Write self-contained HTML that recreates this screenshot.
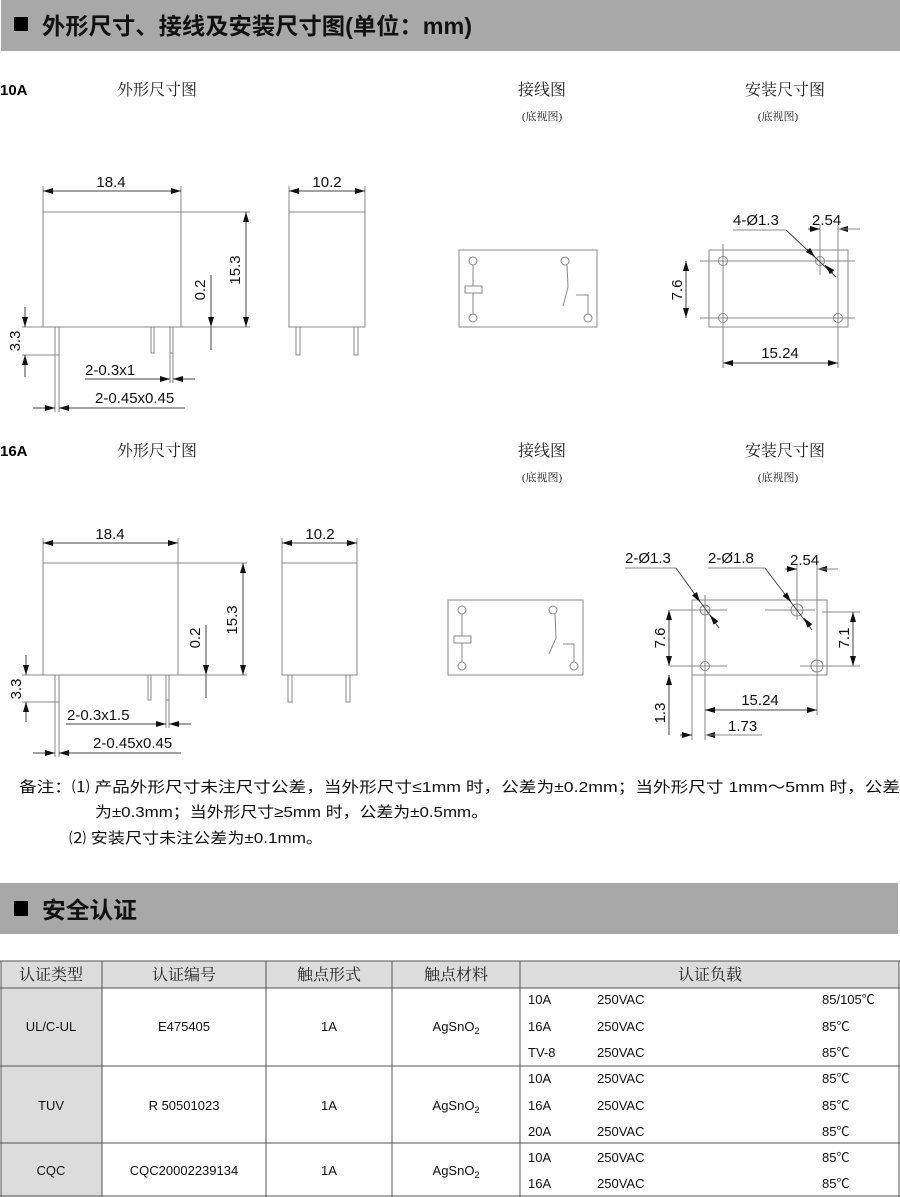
<!DOCTYPE html>
<html><head><meta charset="utf-8"><style>
html,body{margin:0;padding:0;background:#fff;width:900px;height:1197px;overflow:hidden}
svg{display:block}
.d{font-family:"Liberation Sans",sans-serif;font-size:15px;fill:#111}
.s{font-family:"Liberation Serif","Noto Serif CJK SC",serif;font-size:16px;fill:#222}
.ss{font-family:"Liberation Serif","Noto Serif CJK SC",serif;font-size:11px;fill:#222}
.t{font-family:"Liberation Sans","Noto Sans CJK SC",sans-serif;font-size:13px;fill:#111}
.n{font-family:"Liberation Sans","Noto Sans CJK SC",sans-serif;font-size:15px;fill:#111}
.h{font-family:"Liberation Sans","Noto Sans CJK SC",sans-serif;font-size:23px;font-weight:bold;fill:#111}
.ln{stroke:#888;stroke-width:1;fill:none}
.dk{stroke:#444;stroke-width:1;fill:none}
.tb{stroke:#555;stroke-width:1;fill:none}
</style></head><body>
<svg width="900" height="1197" viewBox="0 0 900 1197" xmlns="http://www.w3.org/2000/svg">
<defs>
<marker id="a" viewBox="0 0 10 6" refX="10" refY="3" markerWidth="10" markerHeight="6" orient="auto-start-reverse" markerUnits="userSpaceOnUse"><path d="M0,0L10,3L0,6z" fill="#111"/></marker>
</defs>
<rect x="1" y="0" width="899" height="51" fill="#a8a8a8"/>
<rect x="14" y="17" width="14" height="14" fill="#000"/>
<text class="h" x="42" y="34" textLength="430" lengthAdjust="spacingAndGlyphs">外形尺寸、接线及安装尺寸图(单位：mm)</text>

<text x="0" y="95" style="font-family:'Liberation Sans',sans-serif;font-weight:bold;font-size:15px">10A</text>
<text class="s" x="117" y="95">外形尺寸图</text>
<text class="s" x="542" y="95" text-anchor="middle">接线图</text>
<text class="ss" x="542" y="120" text-anchor="middle">(底视图)</text>
<text class="s" x="785" y="95" text-anchor="middle">安装尺寸图</text>
<text class="ss" x="778" y="120" text-anchor="middle">(底视图)</text>

<g>
<rect x="43" y="212" width="138" height="115" class="ln"/>
<line x1="43" y1="186" x2="43" y2="212" class="ln"/><line x1="181" y1="186" x2="181" y2="212" class="ln"/>
<line x1="43" y1="191" x2="181" y2="191" class="dk" marker-start="url(#a)" marker-end="url(#a)"/>
<text class="d" x="111" y="187" text-anchor="middle">18.4</text>
<line x1="181" y1="212" x2="250" y2="212" class="ln"/><line x1="181" y1="327" x2="250" y2="327" class="ln"/>
<line x1="246" y1="212" x2="246" y2="327" class="dk" marker-start="url(#a)" marker-end="url(#a)"/>
<text class="d" transform="translate(240,270) rotate(-90)" text-anchor="middle">15.3</text>
<line x1="211" y1="275" x2="211" y2="327" class="dk" marker-end="url(#a)"/>
<line x1="211" y1="350" x2="211" y2="327" class="dk"/>
<text class="d" transform="translate(205,290) rotate(-90)" text-anchor="middle">0.2</text>
<line x1="22" y1="327" x2="43" y2="327" class="ln"/><line x1="181" y1="327" x2="214" y2="327" class="ln"/>
<rect x="55" y="327" width="4" height="28" class="ln"/>
<rect x="151" y="327" width="3" height="26" class="ln"/>
<rect x="170" y="327" width="3" height="26" class="ln"/>
<line x1="22" y1="355" x2="55" y2="355" class="ln"/>
<line x1="25" y1="307" x2="25" y2="327" class="dk" marker-end="url(#a)"/>
<line x1="25" y1="377" x2="25" y2="355" class="dk" marker-end="url(#a)"/>
<text class="d" transform="translate(20,341) rotate(-90)" text-anchor="middle">3.3</text>
<line x1="170" y1="353" x2="170" y2="383" class="ln"/><line x1="173" y1="353" x2="173" y2="383" class="ln"/>
<line x1="85" y1="379" x2="170" y2="379" class="dk" marker-end="url(#a)"/>
<line x1="195" y1="379" x2="173" y2="379" class="dk" marker-end="url(#a)"/>
<text class="d" x="85" y="375">2-0.3x1</text>
<line x1="55" y1="355" x2="55" y2="412" class="ln"/><line x1="59" y1="355" x2="59" y2="412" class="ln"/>
<line x1="33" y1="408" x2="55" y2="408" class="dk" marker-end="url(#a)"/>
<line x1="185" y1="408" x2="59" y2="408" class="dk" marker-end="url(#a)"/>
<text class="d" x="95" y="403">2-0.45x0.45</text>
<rect x="289" y="212" width="76" height="115" class="ln"/>
<line x1="289" y1="186" x2="289" y2="212" class="ln"/><line x1="365" y1="186" x2="365" y2="212" class="ln"/>
<line x1="289" y1="191" x2="365" y2="191" class="dk" marker-start="url(#a)" marker-end="url(#a)"/>
<text class="d" x="327" y="187" text-anchor="middle">10.2</text>
<rect x="296" y="327" width="4" height="28" class="ln"/><rect x="354" y="327" width="4" height="28" class="ln"/>
</g>

<g class="ln">
<rect x="459" y="250" width="138" height="77"/>
<circle cx="473" cy="261" r="4"/><circle cx="565" cy="261" r="4"/><circle cx="473" cy="318" r="4"/><circle cx="588" cy="318" r="4"/>
<line x1="473" y1="265" x2="473" y2="286"/><rect x="465" y="286" width="17" height="7"/><line x1="473" y1="293" x2="473" y2="314"/>
<polyline points="567,265 568,287 563,306"/><polyline points="576,295 588,295 588,314"/>
</g>
<g>
<rect x="709" y="250" width="139" height="77" class="ln"/>
<line x1="700" y1="261" x2="855" y2="261" class="ln"/><line x1="700" y1="318" x2="855" y2="318" class="ln"/>
<line x1="723" y1="244" x2="723" y2="368" class="ln"/><line x1="820" y1="225" x2="820" y2="275" class="ln"/><line x1="838" y1="225" x2="838" y2="368" class="ln"/>
<circle cx="723" cy="261" r="4.5" class="ln"/><circle cx="820" cy="261" r="4.5" class="ln"/><circle cx="723" cy="318" r="4.5" class="ln"/><circle cx="838" cy="318" r="4.5" class="ln"/>
<line x1="686" y1="261" x2="686" y2="318" class="dk" marker-start="url(#a)" marker-end="url(#a)"/>
<text class="d" transform="translate(682,290) rotate(-90)" text-anchor="middle">7.6</text>
<line x1="723" y1="363" x2="838" y2="363" class="dk" marker-start="url(#a)" marker-end="url(#a)"/>
<text class="d" x="780" y="358" text-anchor="middle">15.24</text>
<line x1="808" y1="229" x2="820" y2="229" class="dk" marker-end="url(#a)"/>
<line x1="850" y1="229" x2="838" y2="229" class="dk" marker-end="url(#a)"/>
<line x1="838" y1="229" x2="860" y2="229" class="ln"/>
<text class="d" x="812" y="225">2.54</text>
<line x1="733" y1="230" x2="786" y2="230" class="ln"/>
<line x1="786" y1="230" x2="836" y2="277" class="dk"/>
<line x1="807" y1="249" x2="815" y2="257" class="dk" marker-end="url(#a)"/>
<line x1="833" y1="273" x2="825" y2="265" class="dk" marker-end="url(#a)"/>
<text class="d" x="733" y="225">4-Ø1.3</text>
</g>

<text x="0" y="456" style="font-family:'Liberation Sans',sans-serif;font-weight:bold;font-size:15px">16A</text>
<text class="s" x="117" y="456">外形尺寸图</text>
<text class="s" x="542" y="456" text-anchor="middle">接线图</text>
<text class="ss" x="542" y="481" text-anchor="middle">(底视图)</text>
<text class="s" x="785" y="456" text-anchor="middle">安装尺寸图</text>
<text class="ss" x="778" y="481" text-anchor="middle">(底视图)</text>

<g>
<rect x="43" y="563" width="135" height="112" class="ln"/>
<line x1="43" y1="538" x2="43" y2="563" class="ln"/><line x1="178" y1="538" x2="178" y2="563" class="ln"/>
<line x1="43" y1="543" x2="178" y2="543" class="dk" marker-start="url(#a)" marker-end="url(#a)"/>
<text class="d" x="110" y="539" text-anchor="middle">18.4</text>
<line x1="178" y1="563" x2="247" y2="563" class="ln"/><line x1="178" y1="675" x2="247" y2="675" class="ln"/>
<line x1="243" y1="563" x2="243" y2="675" class="dk" marker-start="url(#a)" marker-end="url(#a)"/>
<text class="d" transform="translate(237,620) rotate(-90)" text-anchor="middle">15.3</text>
<line x1="206" y1="625" x2="206" y2="675" class="dk" marker-end="url(#a)"/>
<line x1="206" y1="698" x2="206" y2="675" class="dk"/>
<text class="d" transform="translate(200,638) rotate(-90)" text-anchor="middle">0.2</text>
<line x1="22" y1="675" x2="43" y2="675" class="ln"/><line x1="178" y1="675" x2="210" y2="675" class="ln"/>
<rect x="55" y="675" width="4" height="27" class="ln"/>
<rect x="148" y="675" width="3" height="25" class="ln"/>
<rect x="166" y="675" width="3" height="25" class="ln"/>
<line x1="22" y1="702" x2="55" y2="702" class="ln"/>
<line x1="26" y1="655" x2="26" y2="675" class="dk" marker-end="url(#a)"/>
<line x1="26" y1="722" x2="26" y2="702" class="dk" marker-end="url(#a)"/>
<text class="d" transform="translate(21,689) rotate(-90)" text-anchor="middle">3.3</text>
<line x1="166" y1="700" x2="166" y2="728" class="ln"/><line x1="169" y1="700" x2="169" y2="728" class="ln"/>
<line x1="66" y1="724" x2="166" y2="724" class="dk" marker-end="url(#a)"/>
<line x1="191" y1="724" x2="169" y2="724" class="dk" marker-end="url(#a)"/>
<text class="d" x="67" y="720">2-0.3x1.5</text>
<line x1="55" y1="702" x2="55" y2="757" class="ln"/><line x1="59" y1="702" x2="59" y2="757" class="ln"/>
<line x1="33" y1="753" x2="55" y2="753" class="dk" marker-end="url(#a)"/>
<line x1="181" y1="753" x2="59" y2="753" class="dk" marker-end="url(#a)"/>
<text class="d" x="93" y="748">2-0.45x0.45</text>
<rect x="282" y="563" width="75" height="112" class="ln"/>
<line x1="282" y1="538" x2="282" y2="563" class="ln"/><line x1="357" y1="538" x2="357" y2="563" class="ln"/>
<line x1="282" y1="543" x2="357" y2="543" class="dk" marker-start="url(#a)" marker-end="url(#a)"/>
<text class="d" x="320" y="539" text-anchor="middle">10.2</text>
<rect x="288" y="675" width="4" height="27" class="ln"/><rect x="346" y="675" width="4" height="27" class="ln"/>
</g>

<g class="ln">
<rect x="448" y="600" width="135" height="75"/>
<circle cx="462" cy="610" r="4"/><circle cx="553" cy="610" r="4"/><circle cx="462" cy="666" r="4"/><circle cx="574" cy="666" r="4"/>
<line x1="462" y1="614" x2="462" y2="636"/><rect x="454" y="636" width="17" height="7"/><line x1="462" y1="643" x2="462" y2="662"/>
<polyline points="555,614 556,638 549,654"/><polyline points="563,644 574,644 574,662"/>
</g>
<g>
<rect x="692" y="600" width="135" height="75" class="ln"/>
<line x1="670" y1="610" x2="727" y2="610" class="ln"/><line x1="765" y1="610" x2="815" y2="610" class="ln"/>
<line x1="670" y1="666" x2="727" y2="666" class="ln"/><line x1="800" y1="666" x2="860" y2="666" class="ln"/>
<line x1="822" y1="612" x2="860" y2="612" class="ln"/>
<line x1="705" y1="595" x2="705" y2="740" class="ln"/><line x1="797" y1="565" x2="797" y2="620" class="ln"/><line x1="817" y1="565" x2="817" y2="715" class="ln"/>
<line x1="692" y1="675" x2="692" y2="740" class="ln"/>
<circle cx="705" cy="610" r="5" class="ln"/><circle cx="797" cy="610" r="6" class="ln"/><circle cx="705" cy="666" r="4.5" class="ln"/><circle cx="817" cy="666" r="6" class="ln"/>
<line x1="669" y1="610" x2="669" y2="666" class="dk" marker-start="url(#a)" marker-end="url(#a)"/>
<text class="d" transform="translate(665,638) rotate(-90)" text-anchor="middle">7.6</text>
<line x1="669" y1="675" x2="669" y2="735" class="dk"/>
<line x1="669" y1="690" x2="669" y2="675" class="dk" marker-end="url(#a)"/>
<text class="d" transform="translate(665,713) rotate(-90)" text-anchor="middle">1.3</text>
<line x1="853" y1="612" x2="853" y2="666" class="dk" marker-start="url(#a)" marker-end="url(#a)"/>
<text class="d" transform="translate(849,638) rotate(-90)" text-anchor="middle">7.1</text>
<line x1="705" y1="710" x2="817" y2="710" class="dk" marker-start="url(#a)" marker-end="url(#a)"/>
<text class="d" x="760" y="705" text-anchor="middle">15.24</text>
<line x1="680" y1="735" x2="692" y2="735" class="dk" marker-end="url(#a)"/>
<line x1="717" y1="735" x2="705" y2="735" class="dk" marker-end="url(#a)"/>
<line x1="705" y1="735" x2="762" y2="735" class="ln"/>
<text class="d" x="728" y="731">1.73</text>
<line x1="785" y1="569" x2="797" y2="569" class="dk" marker-end="url(#a)"/>
<line x1="829" y1="569" x2="817" y2="569" class="dk" marker-end="url(#a)"/>
<line x1="817" y1="569" x2="838" y2="569" class="ln"/>
<text class="d" x="790" y="565">2.54</text>
<line x1="625" y1="568" x2="676" y2="568" class="ln"/>
<line x1="676" y1="568" x2="719" y2="628" class="dk"/>
<line x1="694" y1="593" x2="700" y2="602" class="dk" marker-end="url(#a)"/>
<line x1="716" y1="623" x2="710" y2="615" class="dk" marker-end="url(#a)"/>
<text class="d" x="625" y="563">2-Ø1.3</text>
<line x1="708" y1="568" x2="765" y2="568" class="ln"/>
<line x1="765" y1="568" x2="812" y2="630" class="dk"/>
<line x1="784" y1="593" x2="791" y2="602" class="dk" marker-end="url(#a)"/>
<line x1="810" y1="626" x2="804" y2="618" class="dk" marker-end="url(#a)"/>
<text class="d" x="708" y="563">2-Ø1.8</text>
</g>

<text class="n" x="19" y="792" textLength="881" lengthAdjust="spacingAndGlyphs">备注：⑴ 产品外形尺寸未注尺寸公差，当外形尺寸≤1mm 时，公差为±0.2mm；当外形尺寸 1mm～5mm 时，公差</text>
<text class="n" x="95" y="817" textLength="393" lengthAdjust="spacingAndGlyphs">为±0.3mm；当外形尺寸≥5mm 时，公差为±0.5mm。</text>
<text class="n" x="69" y="843" textLength="254" lengthAdjust="spacingAndGlyphs">⑵ 安装尺寸未注公差为±0.1mm。</text>

<rect x="0" y="883" width="898" height="51" fill="#a8a8a8"/>
<rect x="14" y="901" width="14" height="15" fill="#000"/>
<text class="h" x="42" y="918" textLength="95" lengthAdjust="spacingAndGlyphs">安全认证</text>

<rect x="1" y="961" width="101" height="236" fill="#dcdcdc"/>
<rect x="102" y="961" width="797" height="27" fill="#dcdcdc"/>
<g class="tb">
<line x1="0" y1="961" x2="900" y2="961"/><line x1="0" y1="988" x2="900" y2="988"/>
<line x1="0" y1="1066" x2="900" y2="1066"/><line x1="0" y1="1143" x2="900" y2="1143"/>
<line x1="0" y1="1196" x2="900" y2="1196"/>
<line x1="1" y1="961" x2="1" y2="1197"/><line x1="102" y1="961" x2="102" y2="1197"/>
<line x1="266" y1="961" x2="266" y2="1197"/><line x1="392" y1="961" x2="392" y2="1197"/>
<line x1="520" y1="961" x2="520" y2="1197"/><line x1="899" y1="961" x2="899" y2="1197"/>
</g>
<g class="s" text-anchor="middle">
<text x="51" y="980">认证类型</text><text x="184" y="980">认证编号</text><text x="329" y="980">触点形式</text><text x="456" y="980">触点材料</text><text x="710" y="980">认证负载</text>
</g>
<g class="t" text-anchor="middle">
<text x="51" y="1031">UL/C-UL</text><text x="184" y="1031">E475405</text><text x="329" y="1031">1A</text><text x="456" y="1031">AgSnO<tspan font-size="9" dy="3">2</tspan></text>
<text x="51" y="1110">TUV</text><text x="184" y="1110">R 50501023</text><text x="329" y="1110">1A</text><text x="456" y="1110">AgSnO<tspan font-size="9" dy="3">2</tspan></text>
<text x="51" y="1175">CQC</text><text x="184" y="1175">CQC20002239134</text><text x="329" y="1175">1A</text><text x="456" y="1175">AgSnO<tspan font-size="9" dy="3">2</tspan></text>
</g>
<g class="t">
<text x="528" y="1004">10A</text><text x="597" y="1004">250VAC</text><text x="822" y="1004">85/105℃</text>
<text x="528" y="1031">16A</text><text x="597" y="1031">250VAC</text><text x="822" y="1031">85℃</text>
<text x="528" y="1057">TV-8</text><text x="597" y="1057">250VAC</text><text x="822" y="1057">85℃</text>
<text x="528" y="1083">10A</text><text x="597" y="1083">250VAC</text><text x="822" y="1083">85℃</text>
<text x="528" y="1110">16A</text><text x="597" y="1110">250VAC</text><text x="822" y="1110">85℃</text>
<text x="528" y="1136">20A</text><text x="597" y="1136">250VAC</text><text x="822" y="1136">85℃</text>
<text x="528" y="1162">10A</text><text x="597" y="1162">250VAC</text><text x="822" y="1162">85℃</text>
<text x="528" y="1188">16A</text><text x="597" y="1188">250VAC</text><text x="822" y="1188">85℃</text>
</g>
</svg>
</body></html>
